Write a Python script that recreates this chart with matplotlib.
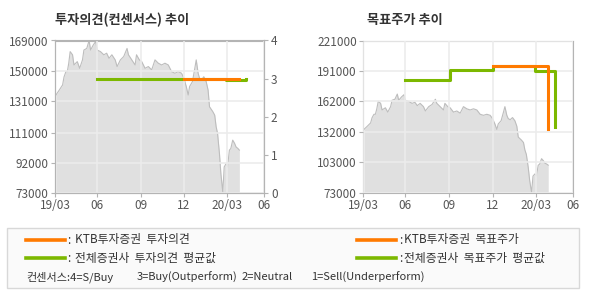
import matplotlib
matplotlib.use("Agg")
import matplotlib.pyplot as plt
from matplotlib.lines import Line2D
from matplotlib.patches import Rectangle
import pandas as pd

plt.rcParams['font.family'] = ['Noto Sans CJK KR', 'DejaVu Sans']

# price history (read from the gray area)
price_dates = [
    "2019-03-06", "2019-03-13", "2019-03-20", "2019-03-23", "2019-03-27", "2019-03-30",
    "2019-04-02", "2019-04-05", "2019-04-10", "2019-04-13", "2019-04-20", "2019-04-25",
    "2019-05-01", "2019-05-04", "2019-05-10", "2019-05-15", "2019-05-18", "2019-05-24",
    "2019-05-29", "2019-06-01", "2019-06-08", "2019-06-15", "2019-06-21", "2019-06-26",
    "2019-07-02", "2019-07-09", "2019-07-13", "2019-07-20", "2019-07-27", "2019-08-03",
    "2019-08-06", "2019-08-13", "2019-08-20", "2019-08-23", "2019-08-29", "2019-09-03",
    "2019-09-10", "2019-09-17", "2019-09-24", "2019-10-01", "2019-10-08", "2019-10-15",
    "2019-10-22", "2019-10-29", "2019-11-05", "2019-11-12", "2019-11-19", "2019-11-26",
    "2019-12-01", "2019-12-06", "2019-12-10", "2019-12-13", "2019-12-19", "2019-12-24",
    "2019-12-27", "2019-12-31", "2020-01-03", "2020-01-07", "2020-01-12", "2020-01-17",
    "2020-01-21", "2020-01-24", "2020-01-31", "2020-02-04", "2020-02-07", "2020-02-10",
    "2020-02-14", "2020-02-17", "2020-02-21", "2020-02-24", "2020-02-28", "2020-03-02",
    "2020-03-06", "2020-03-09", "2020-03-13", "2020-03-17", "2020-03-20", "2020-03-24",
    "2020-03-27",
]
price_values = [
    134700, 137800, 141000, 146000, 149400, 149400,
    154700, 162000, 160000, 153600, 155700, 151500,
    156800, 163000, 164000, 169000, 163000, 166300,
    168400, 163000, 162000, 160000, 161000, 157800,
    160000, 156800, 152600, 156800, 158900, 164000,
    160000, 156800, 153600, 160000, 156800, 155700,
    151500, 152600, 150500, 156800, 154700, 153600,
    154700, 153600, 149400, 148400, 149400, 148400,
    145200, 140000, 134700, 140000, 143100, 151500,
    156800, 148400, 145200, 144100, 146200, 143100,
    137800, 127300, 124200, 122000, 114700, 110500,
    97800, 85200, 73600, 89400, 91500, 89400,
    100000, 101000, 106300, 104200, 102000, 101000,
    100000,
]

# consensus opinion (4=S/Buy ... 1=Sell)
ktb_opinion_dates = ["2019-12-02", "2020-03-26"]
ktb_opinion = [3.0, 3.0]
avg_opinion_dates = ["2019-06-01", "2020-02-28", "2020-04-10"]
avg_opinion = [3.0, 2.97, 3.0]

# target prices
ktb_target_dates = ["2019-12-02", "2020-03-26"]
ktb_target = [196100, 135300]
avg_target_dates = ["2019-06-01", "2019-09-03", "2019-12-02", "2020-02-28", "2020-04-10"]
avg_target = [182200, 192000, 196000, 191200, 136900]

tick_dates = ["2019-03-04", "2019-06-01", "2019-09-01", "2019-12-01", "2020-03-01", "2020-05-18"]
tick_labels = ["19/03", "06", "09", "12", "20/03", "06"]

left_yticks = [73000, 92000, 111000, 131000, 150000, 169000]
right_yticks = [73000, 103000, 132000, 162000, 191000, 221000]
opinion_ticks = [0, 1, 2, 3, 4]

consensus_parts = ["컨센서스:4=S/Buy", "3=Buy(Outperform)", "2=Neutral", "1=Sell(Underperform)"]

ORANGE = "#ff7a00"
GREEN = "#7cb800"
FILL = "#e0e0e0"
EDGE = "#bdbdbd"
SPINE = "#b4b4b4"
GRID = "#ececec"
TXT = "#555555"
LEG = "#333333"

pdates = pd.to_datetime(price_dates)
tdates = pd.to_datetime(tick_dates)


def setup(ax, ymin, ymax, yticks):
    ax.set_xlim(tdates[0], tdates[-1])
    ax.set_ylim(ymin, ymax)
    ax.set_xticks(tdates)
    ax.set_xticklabels(tick_labels)
    ax.set_yticks(yticks)
    ax.set_yticklabels([str(v) for v in yticks])
    ax.set_axisbelow(False)
    ax.grid(True, color=GRID, lw=1.2)
    for s in ax.spines.values():
        s.set_color(SPINE)
    ax.tick_params(colors=SPINE, labelcolor=TXT, labelsize=8.5, length=3, pad=1.5)
    ax.fill_between(pdates, price_values, ymin - 1000, color=FILL, lw=0, zorder=1)
    ax.plot(pdates, price_values, color=EDGE, lw=0.8, zorder=1.5)


fig = plt.figure(figsize=(5.9, 3.0), dpi=100)

ax1 = fig.add_axes([55 / 590, 1 - 193 / 300, 209 / 590, 152.5 / 300])
setup(ax1, 73000, 169000, left_yticks)
ax1b = ax1.twinx()
ax1b.set_ylim(0, 4)
ax1b.set_yticks(opinion_ticks)
ax1b.tick_params(colors=SPINE, labelcolor=TXT, labelsize=8.5, length=3, pad=2)
for s in ax1b.spines.values():
    s.set_color(SPINE)
ax1b.plot(pd.to_datetime(avg_opinion_dates), avg_opinion, drawstyle="steps-post",
          color=GREEN, lw=2.2, zorder=3)
ax1b.plot(pd.to_datetime(ktb_opinion_dates), ktb_opinion, drawstyle="steps-post",
          color=ORANGE, lw=2.2, zorder=4)
ax1b.set_xlim(tdates[0], tdates[-1])

ax2 = fig.add_axes([363 / 590, 1 - 193 / 300, 210 / 590, 152.5 / 300])
setup(ax2, 73000, 221000, right_yticks)
ax2.plot(pd.to_datetime(avg_target_dates), avg_target, drawstyle="steps-post",
         color=GREEN, lw=2.2, zorder=3)
ax2.plot(pd.to_datetime(ktb_target_dates), ktb_target, drawstyle="steps-post",
         color=ORANGE, lw=2.2, zorder=4)

fig.text(55 / 590, 1 - 20 / 300, "투자의견(컨센서스) 추이", fontsize=9.5, fontweight="bold",
         color=LEG, va="center", ha="left")
fig.text(367 / 590, 1 - 20 / 300, "목표주가 추이", fontsize=9.5, fontweight="bold",
         color=LEG, va="center", ha="left")

# legend box
fig.patches.append(Rectangle((7 / 590, 1 - 288 / 300), 572 / 590, 60 / 300,
                             transform=fig.transFigure, facecolor="#fafafa",
                             edgecolor="#d8d8d8", lw=1))

legend_rows = [
    (240, ORANGE, "KTB투자증권  투자의견", "KTB투자증권  목표주가"),
    (258, GREEN, "전체증권사  투자의견  평균값", "전체증권사  목표주가  평균값"),
]
for y, col, left_txt, right_txt in legend_rows:
    yf = 1 - y / 300
    fig.lines.append(Line2D([26 / 590, 65 / 590], [yf, yf], transform=fig.transFigure,
                            color=col, lw=2.6))
    fig.lines.append(Line2D([357 / 590, 396 / 590], [yf, yf], transform=fig.transFigure,
                            color=col, lw=2.6))
    fig.text(67 / 590, yf, ":", fontsize=8.5, color=LEG, va="center")
    fig.text(399 / 590, yf, ":", fontsize=8.5, color=LEG, va="center")
    fig.text(75 / 590, yf, left_txt, fontsize=8.5, color=LEG, va="center")
    fig.text(404 / 590, yf, right_txt, fontsize=8.5, color=LEG, va="center")

for x, part in zip([26, 137, 242, 311], consensus_parts):
    fig.text(x / 590, 1 - 277 / 300, part, fontsize=8, color=LEG, va="center")

fig.savefig("out.png", dpi=100)
